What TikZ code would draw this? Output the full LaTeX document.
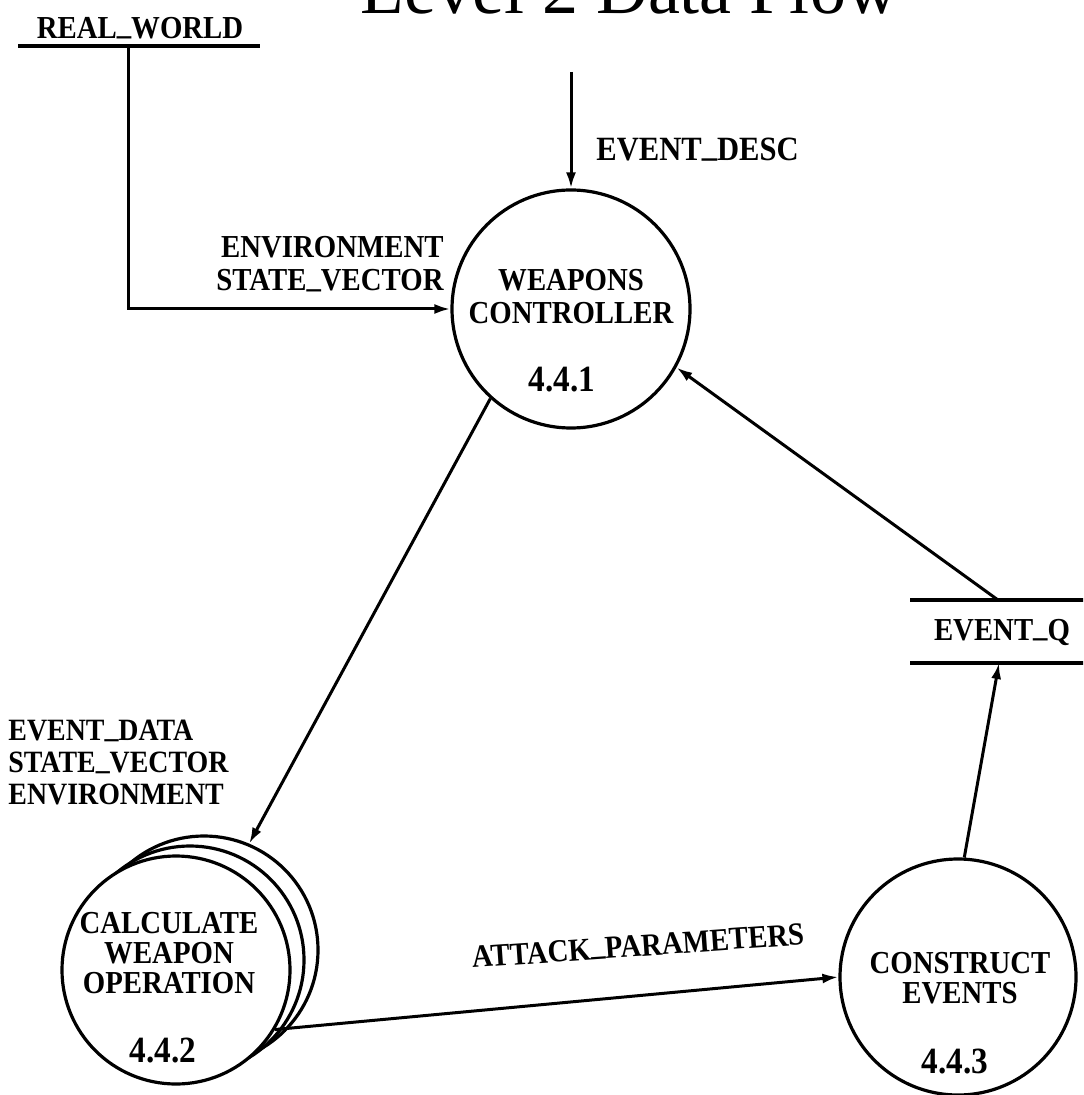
\documentclass[tikz,border=0pt]{standalone}
\usepackage{fontspec}
\setmainfont{Liberation Serif}[FakeStretch=0.9]
\newfontfamily\titlefont{Liberation Serif}
\usetikzlibrary{arrows.meta}
% low dash used inside data names
\newcommand{\usc}{\raisebox{0.12em}{\_}}
\begin{document}
\begin{tikzpicture}[x=0.5pt,y=-0.5pt,
  flow/.style={line width=1.5pt,-{Latex[length=8pt,width=5pt]}},
  storeline/.style={line width=2.2pt},
  proc/.style={circle,draw,line width=1.6pt,inner sep=0pt,fill=white},
  lbl/.style={font=\bfseries\fontsize{16}{16}\selectfont,inner sep=0pt},
  numlbl/.style={font=\bfseries\fontsize{18.5}{18.5}\selectfont,inner sep=0pt}]
\path[use as bounding box,clip] (0,0) rectangle (1083,1095);
\fill[white] (0,0) rectangle (1083,1095);

% heading
\node[anchor=base,inner sep=0pt,font=\titlefont\fontsize{36}{36}\selectfont] (title) at (629,14) {Level 2 Data Flow};

% data stores
\node[lbl] (rw) at (140,28) {REAL\usc WORLD};
\draw[storeline] (18,46) -- (260,46);
\coordinate (rwtap) at (128,46);

\node[lbl] (eq) at (1002,632) {EVENT\usc Q};
\draw[storeline] (910,600) -- (1090,600);
\draw[storeline] (910,663) -- (1090,663);
\coordinate (eqtop) at (998,600);
\coordinate (eqbot) at (999,663);

% processes
\node[proc,minimum size=119pt] (wc) at (571,309) {};
\node[lbl,align=center,font=\bfseries\fontsize{16}{16.5}\selectfont] (wctxt) at (571,297) {WEAPONS\\CONTROLLER};
\node[numlbl] (wcnum) at (562,380) {4.4.1};

\node[proc,minimum size=114pt] (cwo3) at (204,950) {};
\node[proc,minimum size=114pt] (cwo2) at (190,960) {};
\node[proc,minimum size=114pt] (cwo) at (176,970) {};
\node[lbl,align=center,font=\bfseries\fontsize{16}{15.2}\selectfont] (cwotxt) at (169,953) {CALCULATE\\WEAPON\\OPERATION};
\node[numlbl] (cwonum) at (163,1050) {4.4.2};

\node[proc,minimum size=118pt] (ce) at (958,977) {};
\node[lbl,align=center,font=\bfseries\fontsize{16}{15.2}\selectfont] (cetxt) at (960,978) {CONSTRUCT\\EVENTS};
\node[numlbl] (cenum) at (955,1062) {4.4.3};

% flows
\coordinate (edsrc) at (571,72);
\draw[flow] (edsrc) -- (wc.north);
\node[lbl,anchor=west,font=\bfseries\fontsize{17}{17}\selectfont] (edlbl) at (596,150) {EVENT\usc DESC};

\draw[flow] (rwtap) |- (wc.west);
\node[lbl,align=right,anchor=south east,font=\bfseries\fontsize{16}{16.5}\selectfont] (envlbl) at (444,292) {ENVIRONMENT\\STATE\usc VECTOR};

\draw[flow] (wc.228) -- (cwo3.67);
\node[lbl,align=left,anchor=north west,font=\bfseries\fontsize{15.5}{16}\selectfont] (cwolbl) at (8,720) {EVENT\usc DATA\\STATE\usc VECTOR\\ENVIRONMENT};

\draw[flow] (cwo.-31) -- (ce.west);
\node[lbl,rotate=4] (aplbl) at (638,946) {ATTACK\usc PARAMETERS};

\draw[flow] (ce.87) -- (eqbot);
\draw[flow] (eqtop) -- (wc.-29);
\end{tikzpicture}
\end{document}
